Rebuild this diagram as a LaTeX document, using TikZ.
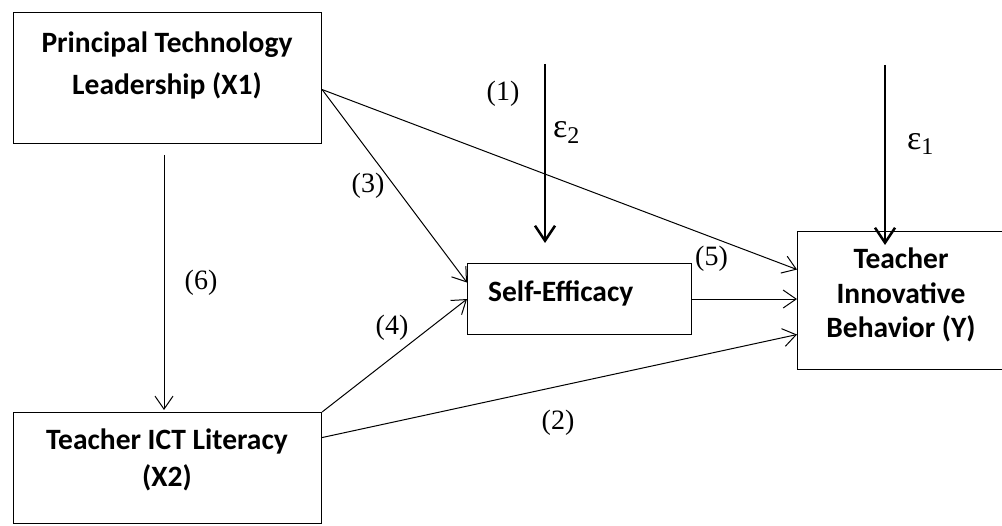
\documentclass[tikz,border=0pt]{standalone}
\usepackage{fontspec}
\setmainfont{Liberation Serif}
\newfontfamily\boxfont{Carlito}
\usetikzlibrary{arrows.meta}

\begin{document}
\begin{tikzpicture}[x=1pt,y=-1pt,
  box/.style={draw, line width=1.1pt, inner sep=0pt, anchor=north west},
  boxtext/.style={font=\boxfont\bfseries\fontsize{29.5}{#1}\selectfont, align=center, inner sep=0pt, anchor=base},
  pathlabel/.style={font=\fontsize{28}{28}\selectfont, inner sep=0pt, anchor=base},
  errlabel/.style={inner sep=0pt, anchor=base west},
  link/.style={line width=1pt, -{Straight Barb[length=13pt,width=18pt]}},
  errarrow/.style={line width=2.5pt, -{Straight Barb[length=15pt,width=20pt]}}
]
\useasboundingbox (0,0) rectangle (1002,526);

% variable boxes
\node[box, minimum width=308pt, minimum height=131pt] (x1) at (13,12) {};
\node[box, minimum width=308pt, minimum height=111pt] (x2) at (13,412) {};
\node[box, minimum width=224pt, minimum height=71pt] (se) at (467,263) {};
\node[box, minimum width=207pt, minimum height=138pt] (y) at (797,231) {};

% box captions (anchored at the baseline of their last line)
\node[boxtext=41.6] (x1t) at (167,94.3) {Principal Technology\\Leadership (X1)};
\node[boxtext=36] (x2t) at (167,486) {Teacher ICT Literacy\\(X2)};
\node[boxtext=29.5, anchor=base west] (set) at (488,302) {Self-Efficacy};
\node[boxtext=34.5] (yt) at (901,338) {Teacher\\Innovative\\Behavior (Y)};

% connector end points
\coordinate (x1out) at ([yshift=-11.5pt]x1.east);
\coordinate (x1down) at (164,155);
\coordinate (x2in) at (164,410);
\coordinate (x2a) at (x2.north east);
\coordinate (x2b) at ([yshift=30.5pt]x2.east);
\coordinate (se3) at ([yshift=16.5pt]se.west);
\coordinate (y1) at ([yshift=31pt]y.west);
\coordinate (y2) at ([yshift=-34pt]y.west);
\coordinate (e2top) at (545,64);
\coordinate (e2tip) at (545,243);
\coordinate (e1top) at (885,65);
\coordinate (e1tip) at (885,245);

% paths
\draw[link] (x1out) -- (y1);
\draw[link] (x1out) -- (se3);
\draw[link] (x1down) -- (x2in);
\draw[link] (x2a) -- (se.west);
\draw[link] (x2b) -- (y2);
\draw[link] (se.east) -- (se.east -| y.west);

% error terms
\draw[errarrow] (e2top) -- (e2tip);
\draw[errarrow] (e1top) -- (e1tip);
\node[errlabel] (eps2) at (553,138) {\fontsize{34}{34}\selectfont ε\raisebox{-6pt}{\fontsize{24}{24}\selectfont 2}};
\node[errlabel] (eps1) at (907,150) {\fontsize{34}{34}\selectfont ε\raisebox{-5pt}{\fontsize{24}{24}\selectfont 1}};

% path numbers
\node[pathlabel] (p1) at (503,101) {(1)};
\node[pathlabel] (p2) at (558,430) {(2)};
\node[pathlabel] (p3) at (368,193) {(3)};
\node[pathlabel] (p4) at (392,335) {(4)};
\node[pathlabel] (p5) at (711.5,266) {(5)};
\node[pathlabel] (p6) at (201,290) {(6)};
\end{tikzpicture}
\end{document}
